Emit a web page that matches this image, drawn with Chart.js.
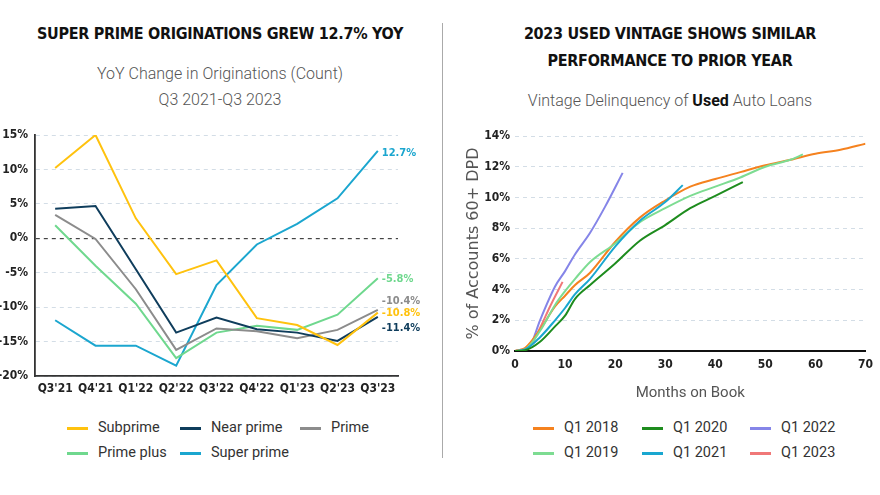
<!DOCTYPE html>
<html>
<head>
<meta charset="utf-8">
<script src="https://cdn.jsdelivr.net/npm/chart.js@4.4.1/dist/chart.umd.min.js"></script>
<style>
  body { margin: 0; width: 880px; height: 495px; background: #fff; position: relative; overflow: hidden; font-family: Roboto, "Liberation Sans", sans-serif; }
  .title { position: absolute; font-family: "DejaVu Sans Condensed", "DejaVu Sans", sans-serif; font-stretch: condensed; font-weight: bold; font-size: 16px; color: #111; text-align: center; line-height: 27px; letter-spacing: -0.3px; }
  .sub { position: absolute; font-weight: 300; font-size: 16px; color: #555; text-align: center; line-height: 26px; }
  .divider { position: absolute; left: 442px; top: 23px; width: 1px; height: 435px; background: #aaa; }
  canvas { position: absolute; }
  .legend { position: absolute; font-size: 14.5px; color: #333; }
  .legend .item { position: absolute; white-space: nowrap; }
  .legend .sw { position: absolute; top: 9px; width: 21px; height: 3px; }
  .legend .txt { position: absolute; left: 31px; top: 0; line-height: 20px; }
</style>
</head>
<body>
<div class="title" style="left:0;width:440px;top:20px;">SUPER PRIME ORIGINATIONS GREW 12.7% YOY</div>
<div class="sub" style="left:0;width:440px;top:61px;">YoY Change in Originations (Count)<br>Q3 2021-Q3 2023</div>
<div class="title" style="left:450px;width:440px;top:20px;">2023 USED VINTAGE SHOWS SIMILAR<br>PERFORMANCE TO PRIOR YEAR</div>
<div class="sub" style="left:450px;width:440px;top:88px;">Vintage Delinquency of <b style="color:#111;font-weight:bold">Used</b> Auto Loans</div>
<div class="divider"></div>

<canvas id="leftChart" style="left:0;top:120px;" width="440" height="280"></canvas>
<canvas id="rightChart" style="left:455px;top:120px;" width="425" height="286"></canvas>
<div class="legend" id="leftLegend"></div>
<div class="legend" id="rightLegend"></div>

<script>
// ---- left chart data ----
var quarters = ["Q3'21", "Q4'21", "Q1'22", "Q2'22", "Q3'22", "Q4'22", "Q1'23", "Q2'23", "Q3'23"];
var subprime   = [10.2, 15.0, 2.9, -5.2, -3.2, -11.6, -12.6, -15.5, -10.8];
var nearPrime  = [4.3, 4.7, -4.5, -13.7, -11.5, -13.2, -13.7, -14.9, -11.4];
var prime      = [3.4, -0.1, -7.4, -16.2, -13.1, -13.5, -14.5, -13.3, -10.4];
var primePlus  = [1.9, -4.0, -9.5, -17.4, -13.7, -12.7, -13.3, -11.1, -5.8];
var superPrime = [-11.9, -15.6, -15.6, -18.5, -6.8, -0.9, 2.1, 5.8, 12.7];
var leftTicks = [15, 10, 5, 0, -5, -10, -15, -20];

// ---- right chart data ----
var m2018 = [0, 2, 5, 8, 10, 12, 15, 20, 25, 30, 35, 40, 45, 50, 55, 60, 65, 70];
var v2018 = [0, 0.2, 1.4, 2.9, 3.6, 4.3, 5.1, 7.1, 8.7, 9.8, 10.7, 11.2, 11.65, 12.1, 12.45, 12.85, 13.1, 13.5];
var m2019 = [0, 2, 5, 8, 10, 12, 15, 20, 25, 30, 35, 40, 45, 50, 55, 57.5];
var v2019 = [0, 0.1, 1.3, 3.0, 3.9, 4.7, 5.8, 7.0, 8.4, 9.3, 10.1, 10.7, 11.3, 12.0, 12.45, 12.8];
var m2020 = [0, 2, 5, 8, 10, 12, 15, 20, 25, 30, 35, 40, 45.5];
var v2020 = [0, 0.05, 0.6, 1.6, 2.3, 3.4, 4.3, 5.7, 7.2, 8.2, 9.3, 10.1, 11.0];
var m2021 = [0, 2, 5, 8, 10, 12, 15, 20, 25, 30, 33.5];
var v2021 = [0, 0.1, 0.9, 2.0, 2.8, 3.7, 4.7, 6.8, 8.5, 9.7, 10.8];
var m2022 = [0, 2, 3, 5, 8, 10, 12, 15, 18, 21.5];
var v2022 = [0, 0.1, 0.3, 2.0, 4.2, 5.2, 6.3, 7.7, 9.4, 11.6];
var m2023 = [0, 2, 3, 5, 7, 9.5];
var v2023 = [0, 0.15, 0.3, 1.5, 2.9, 4.5];
var rightTicks = [0, 2, 4, 6, 8, 10, 12, 14];

var condensed = "'DejaVu Sans Condensed', 'DejaVu Sans', sans-serif";
var tickFont = { family: condensed, size: 12, weight: "bold" };

// legends built as html grids; byColumn puts items down the columns first
function buildLegend(id, left, top, colX, items, byColumn) {
    var el = document.getElementById(id);
    el.style.left = left + "px";
    el.style.top = top + "px";
    items.forEach(function (it, i) {
        var col = byColumn ? Math.floor(i / 2) : i % 3;
        var row = byColumn ? i % 2 : Math.floor(i / 3);
        var d = document.createElement("div");
        d.className = "item";
        d.style.left = colX[col] + "px";
        d.style.top = (row * 25) + "px";
        d.innerHTML = '<div class="sw" style="background:' + it.color + '"></div><div class="txt">' + it.label + "</div>";
        el.appendChild(d);
    });
}

var leftSets = [
    { label: "Subprime", data: subprime, color: "#ffc20e", off: 0 },
    { label: "Near prime", data: nearPrime, color: "#0f3d5c", off: 11 },
    { label: "Prime", data: prime, color: "#8c8c8c", off: -9 },
    { label: "Prime plus", data: primePlus, color: "#6fd88e", off: 1 },
    { label: "Super prime", data: superPrime, color: "#1ba6cf", off: 2 },
];

// labels at the end of each line
var endLabels = {
    id: "endLabels",
    afterDatasetsDraw: function (chart) {
        var ctx = chart.ctx;
        ctx.save();
        ctx.font = "bold 11px " + condensed;
        ctx.textBaseline = "middle";
        chart.data.datasets.forEach(function (ds, i) {
            var meta = chart.getDatasetMeta(i);
            var pt = meta.data[meta.data.length - 1];
            var v = ds.data[ds.data.length - 1];
            ctx.fillStyle = ds.borderColor;
            ctx.fillText(v.toFixed(1) + "%", pt.x + 4, pt.y + leftSets[i].off);
        });
        ctx.restore();
    },
};

new Chart(document.getElementById("leftChart"), {
    type: "line",
    data: {
        labels: quarters,
        datasets: leftSets.map(function (s) {
            return { label: s.label, data: s.data, borderColor: s.color, backgroundColor: s.color, borderWidth: 2, pointRadius: 0, tension: 0 };
        }),
    },
    options: {
        responsive: false,
        animation: false,
        layout: { padding: { top: 15, right: 42, left: 0, bottom: 0 } },
        plugins: { legend: { display: false }, tooltip: { enabled: false } },
        scales: {
            x: {
                offset: true,
                grid: { display: false, drawTicks: false },
                border: { display: true, color: "#333", width: 1.8 },
                ticks: { color: "#222", font: tickFont, padding: 6, maxRotation: 0, autoSkip: false },
                afterFit: function (s) { s.height = 24; },
            },
            y: {
                min: -20,
                max: 15,
                afterBuildTicks: function (s) { s.ticks = leftTicks.map(function (v) { return { value: v }; }); },
                grid: {
                    drawTicks: false,
                    color: function (c) { return c.tick && c.tick.value === 0 ? "#444" : "#d3dde6"; },
                    lineWidth: function (c) { return c.tick && c.tick.value === 0 ? 1.2 : 1; },
                },
                border: { display: true, color: "#333", width: 1.8, dash: [4, 4] },
                ticks: { color: "#222", font: tickFont, padding: 7, callback: function (v) { return v + "%"; } },
                afterFit: function (s) { s.width = 35; },
            },
        },
    },
    plugins: [endLabels],
});

var rightSets = [
    { label: "Q1 2018", m: m2018, v: v2018, color: "#f5821f" },
    { label: "Q1 2019", m: m2019, v: v2019, color: "#7ddc92" },
    { label: "Q1 2020", m: m2020, v: v2020, color: "#1e8c1e" },
    { label: "Q1 2021", m: m2021, v: v2021, color: "#1aa7d0" },
    { label: "Q1 2022", m: m2022, v: v2022, color: "#8585e8" },
    { label: "Q1 2023", m: m2023, v: v2023, color: "#f07878" },
];
// draw order: older vintages on top like the reference
var drawOrder = [2, 3, 1, 0, 4, 5];

new Chart(document.getElementById("rightChart"), {
    type: "line",
    data: {
        datasets: drawOrder.map(function (k) {
            var s = rightSets[k];
            return {
                label: s.label,
                data: s.m.map(function (mm, j) { return { x: mm, y: s.v[j] }; }),
                borderColor: s.color,
                borderWidth: 2,
                pointRadius: 0,
                cubicInterpolationMode: "monotone",
            };
        }),
    },
    options: {
        responsive: false,
        animation: false,
        layout: { padding: { top: 16, right: 5, left: 0, bottom: 0 } },
        plugins: { legend: { display: false }, tooltip: { enabled: false } },
        scales: {
            x: {
                type: "linear",
                min: 0,
                max: 70,
                grid: { display: false, drawTicks: false },
                border: { display: true, color: "#111", width: 2 },
                ticks: { stepSize: 10, color: "#222", font: tickFont, padding: 7 },
                title: { display: true, text: "Months on Book", color: "#555", font: { family: "Roboto, sans-serif", size: 15 }, padding: { top: 5 } },
                afterFit: function (s) { s.height = 55; },
            },
            y: {
                min: 0,
                max: 14,
                afterBuildTicks: function (s) { s.ticks = rightTicks.map(function (v) { return { value: v }; }); },
                grid: { drawTicks: false, color: "#d3dde6" },
                border: { display: false, dash: [4, 4] },
                ticks: { color: "#222", font: tickFont, padding: 5, callback: function (v) { return v + "%"; } },
                title: { display: true, text: "% of Accounts 60+ DPD", color: "#555", font: { family: "'DejaVu Sans', sans-serif", size: 16 }, padding: { top: 9, bottom: 0 } },
                afterFit: function (s) { s.width = 60; },
            },
        },
    },
});

buildLegend("leftLegend", 67, 418, [0, 113, 233], leftSets, false);
buildLegend("rightLegend", 533, 418, [0, 109, 217], rightSets, true);
</script>
</body>
</html>
